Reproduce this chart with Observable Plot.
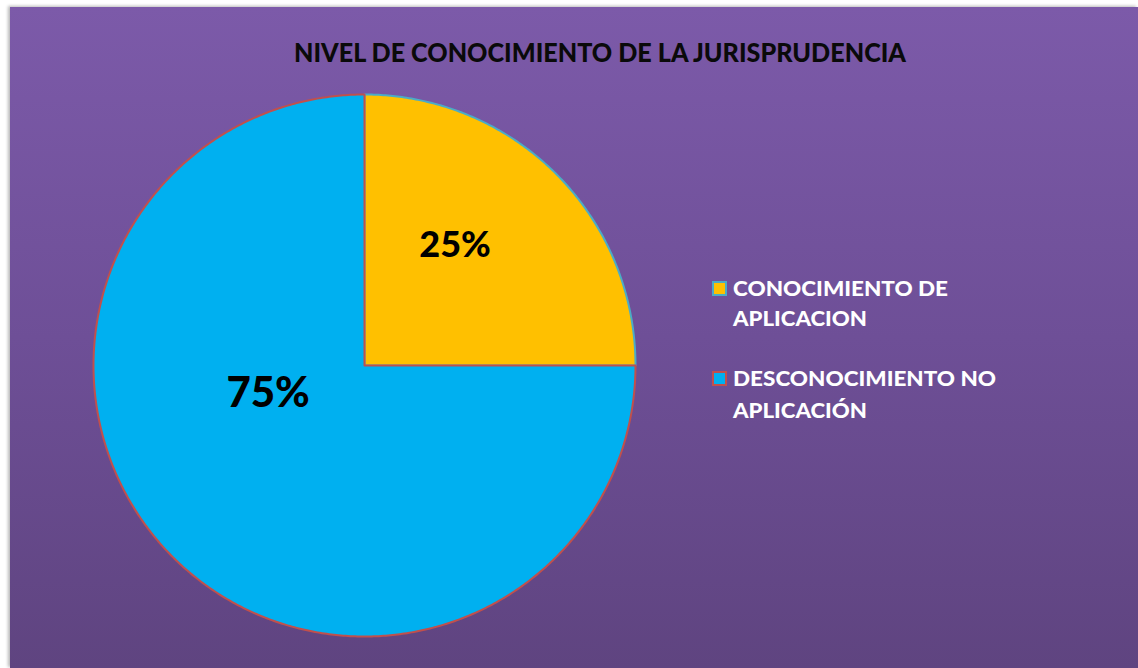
<!DOCTYPE html>
<html>
<head>
<meta charset="utf-8">
<script src="https://cdn.jsdelivr.net/npm/d3@7"></script>
<script src="https://cdn.jsdelivr.net/npm/@observablehq/plot@0.6"></script>
<style>
  html, body { margin: 0; padding: 0; background: #fff; }
  #wrap { position: relative; width: 1138px; height: 668px; overflow: hidden; background: #fff; }
  #bg { position: absolute; left: 10px; top: 7px; right: 0; bottom: 0;
        background: linear-gradient(to bottom, #7c5aa9 0%, #6e4f97 50%, #5f4480 100%);
        box-shadow: -2px -1px 3px rgba(0,0,0,0.28); }
  #chart { position: absolute; left: 0; top: 0; }
  .t { position: absolute; white-space: nowrap; font-family: Lato, "Open Sans", sans-serif; font-weight: 900;
       line-height: 1; transform-origin: 0 0; }
  .sw { position: absolute; width: 11px; height: 11px; border: 2px solid; }
</style>
</head>
<body>
<div id="wrap">
  <div id="bg"></div>
  <div id="chart"></div>
</div>
<script>
// ---- data ----
const title = "NIVEL DE CONOCIMIENTO DE LA JURISPRUDENCIA";
const categories = ["CONOCIMIENTO DE APLICACION", "DESCONOCIMIENTO NO APLICACIÓN"];
const legendLines = [["CONOCIMIENTO DE", "APLICACION"], ["DESCONOCIMIENTO NO", "APLICACIÓN"]];
const values = [25, 75];
const valueLabels = ["25%", "75%"];

// ---- styles / layout ----
const fills = ["#FFC000", "#00B0F0"];
const strokes = ["#4BACC6", "#C0504D"];
const cx = 364, cy = 365, R = 271;
// label placement (polar: angle in degrees clockwise from top, radius fraction) and size
const labelPlace = [{a: 37, r: 0.555, fs: 36}, {a: 254, r: 0.37, fs: 42}];

const pie = d3.pie().sort(null).value(d => d)(values);
const polys = pie.map((p, i) => {
  const pts = [{x: 0, y: 0, i}];
  const n = Math.max(2, Math.ceil((p.endAngle - p.startAngle) / (Math.PI / 360)));
  for (let k = 0; k <= n; k++) {
    const a = p.startAngle + (p.endAngle - p.startAngle) * k / n;
    pts.push({x: Math.sin(a), y: Math.cos(a), i});
  }
  pts.push({x: 0, y: 0, i});
  return pts;
});
const labelData = valueLabels.map((t, i) => {
  const a = labelPlace[i].a * Math.PI / 180;
  return {t, x: labelPlace[i].r * Math.sin(a), y: labelPlace[i].r * Math.cos(a), fs: labelPlace[i].fs};
});

const marks = [];
polys.forEach((pts, i) => {
  marks.push(Plot.line(pts, {x: "x", y: "y", fill: fills[i], stroke: strokes[i], strokeWidth: 2, curve: "linear"}));
});
labelData.forEach(d => {
  marks.push(Plot.text([d], {x: "x", y: "y", text: "t", fill: "#000", fontSize: d.fs, fontWeight: 900,
    fontFamily: "Lato, 'Open Sans', sans-serif"}));
});

const svg = Plot.plot({
  width: 1138, height: 668,
  margin: 0,
  x: {domain: [-1, 1], range: [cx - R, cx + R], axis: null},
  y: {domain: [-1, 1], range: [cy + R, cy - R], axis: null},
  style: {background: "transparent", overflow: "visible"},
  marks
});
document.getElementById("chart").appendChild(svg);

// ---- HTML text: title & legend ----
const wrap = document.getElementById("wrap");
function addText(txt, fs, color, left, baseline, targetW, center) {
  const el = document.createElement("div");
  el.className = "t";
  el.textContent = txt;
  el.style.fontSize = fs + "px";
  el.style.color = color;
  el.style.top = (baseline - 0.887 * fs) + "px";
  wrap.appendChild(el);
  const w = el.getBoundingClientRect().width;
  const s = targetW / w;
  el.style.transform = `scaleX(${s})`;
  el.style.left = (center ? left - targetW / 2 : left) + "px";
  return el;
}
addText(title, 27, "#0a0a0a", 600, 62, 612, true);

const legendPos = [{sq: 281, base: [297, 327], w: [215, 134]}, {sq: 371, base: [387, 419], w: [263, 134]}];
categories.forEach((c, i) => {
  const sw = document.createElement("div");
  sw.className = "sw";
  sw.style.left = "712px";
  sw.style.top = legendPos[i].sq + "px";
  sw.style.background = fills[i];
  sw.style.borderColor = strokes[i];
  wrap.appendChild(sw);
  legendLines[i].forEach((line, j) => {
    addText(line, 21.5, "#ffffff", 733, legendPos[i].base[j], legendPos[i].w[j], false);
  });
});
</script>
</body>
</html>
